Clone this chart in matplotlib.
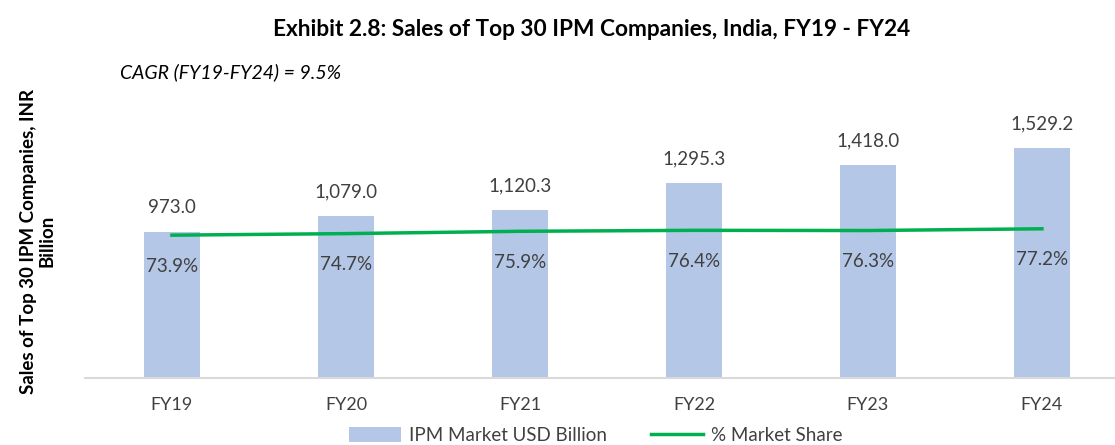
import matplotlib.pyplot as plt
import numpy as np

years = ['FY19', 'FY20', 'FY21', 'FY22', 'FY23', 'FY24']
sales = [973.0, 1079.0, 1120.3, 1295.3, 1418.0, 1529.2]
share = [73.9, 74.7, 75.9, 76.4, 76.3, 77.2]

plt.rcParams['font.family'] = 'Lato'
txt = '#404040'

fig = plt.figure(figsize=(11.15, 4.45), dpi=100)
ax = fig.add_axes([0.0762, 0.1506, 0.9238, 0.608])
x = np.arange(len(years))

bars = ax.bar(x, sales, width=0.32, color='#b4c7e7', label='IPM Market USD Billion', zorder=2)
ax.set_ylim(0, 1800)
ax.set_xlim(-0.5, 5.42)
ax.set_xticks(x)
ax.set_xticklabels(years, fontsize=13, color=txt)
ax.tick_params(axis='x', length=0, pad=14)
ax.set_yticks([])
for s in ['top', 'right', 'left']:
    ax.spines[s].set_visible(False)
ax.spines['bottom'].set_color('#d9d9d9')
ax.spines['bottom'].set_linewidth(1.5)

for xi, v in zip(x, sales):
    ax.annotate(f'{v:,.1f}', (xi, v), xytext=(0, 24), textcoords='offset pixels',
                ha='center', va='center', fontsize=13.5, color=txt)

ax2 = ax.twinx()
ax2.set_ylim(0, 140)
ax2.set_yticks([])
for s in ax2.spines.values():
    s.set_visible(False)
line, = ax2.plot(x, share, color='#00b050', lw=2.5, label='% Market Share', zorder=3)
for xi, v in zip(x, share):
    ax2.annotate(f'{v:.1f}%', (xi, v), xytext=(0, -31), textcoords='offset pixels',
                 ha='center', va='center', fontsize=13.5, color=txt)

fig.text(0.531, 0.933, 'Exhibit 2.8: Sales of Top 30 IPM Companies, India, FY19 - FY24',
         ha='center', va='center', fontsize=16.3, fontweight='bold', color='black')
fig.text(0.108, 0.838, 'CAGR (FY19-FY24) = 9.5%', ha='left', va='center',
         fontsize=14, style='italic', color='black')
fig.text(0.034, 0.458, 'Sales of Top 30 IPM Companies, INR\nBillion', rotation=90,
         ha='center', va='center', fontsize=13.5, fontweight='bold', color='black',
         multialignment='center', linespacing=1.1)

fig.legend([bars, line], ['IPM Market USD Billion', '% Market Share'],
           loc='center', bbox_to_anchor=(0.534, 0.022), ncol=2, frameon=False,
           fontsize=13.5, labelcolor=txt, handlelength=2.8, handleheight=0.9,
           columnspacing=2.35, handletextpad=0.4)

fig.savefig('out.png', dpi=100)
